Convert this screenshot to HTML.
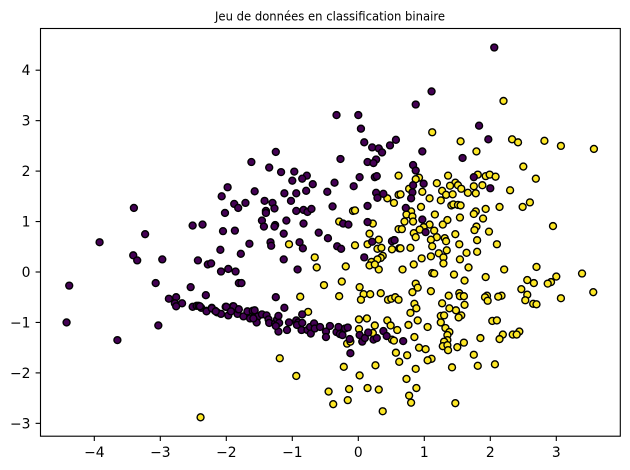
<!DOCTYPE html>
<html>
<head>
<meta charset="utf-8">
<title>Jeu de données en classification binaire</title>
<style>
html,body{margin:0;padding:0;background:#fff;}
#chart{display:block;width:630px;height:470px;font-family:"DejaVu Sans","Liberation Sans",sans-serif;}
</style>
</head>
<body>
<svg id="chart" width="630" height="470" viewBox="0 0 630 470" xmlns="http://www.w3.org/2000/svg">
  <rect x="0" y="0" width="630" height="470" fill="#ffffff"/>
  <text x="330" y="20.5" font-size="12px" text-anchor="middle" fill="#000" textLength="230" lengthAdjust="spacingAndGlyphs">Jeu de données en classification binaire</text>
  <g id="class-0-points"></g>
  <g id="class-1-points"></g>
  <g id="x-axis"></g>
  <g id="y-axis"></g>
  <rect x="40.5" y="28.5" width="579.8" height="407.7" fill="none" stroke="#000" stroke-width="1.11"/>
</svg>
<script>
const xTicks = [-4, -3, -2, -1, 0, 1, 2, 3];
const yTicks = [-3, -2, -1, 0, 1, 2, 3, 4];
const class1Points = [
[0.61,1.91],[0.44,1.46],[0.54,1.37],[0.61,1.53],[-0.08,1.21],[-0.05,1.22],[-0.29,1.00],[0.22,0.96],[0.17,0.76],[-1.05,0.55],
[-0.05,0.53],[0.14,0.55],[0.31,0.64],[0.29,0.46],[0.35,0.48],[0.51,0.45],[0.62,0.47],[0.61,0.85],[-0.66,0.29],[-0.63,0.09],
[-0.19,0.11],[0.37,0.32],[0.34,0.28],[0.29,0.25],[0.20,0.20],[0.17,0.13],[0.31,0.05],[0.25,0.15],[-0.25,-0.19],[-0.52,-0.26],
[0.02,-0.30],[0.08,-0.44],[0.18,-0.44],[0.34,-0.42],[0.04,-0.55],[0.45,-0.55],[0.50,-0.53],[0.56,-0.50],[0.61,-0.55],[-0.29,-0.48],
[-0.88,-0.49],[-0.76,-0.79],[-0.17,-1.42],[-0.12,-1.38],[0.01,-0.94],[0.13,-0.92],[0.01,-1.13],[0.25,-1.06],[0.44,-0.96],[0.49,-1.06],
[0.59,-1.15],[0.51,-1.34],[0.22,-1.21],[0.57,-1.60],[0.62,-1.78],[-1.19,-1.71],[-0.94,-2.06],[-0.22,-1.88],[0.26,-1.85],[0.02,-2.05],
[-0.45,-2.37],[-0.38,-2.62],[-0.14,-2.32],[-0.16,-2.54],[0.14,-2.30],[0.31,-2.33],[0.37,-2.76],[-2.39,-2.88],[2.20,3.39],[1.12,2.77],
[1.55,2.59],[2.33,2.63],[2.42,2.57],[2.82,2.60],[3.07,2.50],[3.57,2.44],[1.79,2.39],[2.50,2.09],[1.36,1.91],[0.92,1.87],
[0.87,1.84],[1.81,1.93],[1.93,1.90],[1.99,1.93],[2.08,1.89],[2.69,1.85],[1.19,1.76],[1.47,1.77],[1.39,1.71],[1.51,1.72],
[1.56,1.65],[1.75,1.70],[1.88,1.72],[1.66,1.57],[1.78,1.56],[1.27,1.61],[1.33,1.53],[1.43,1.54],[0.97,1.59],[0.77,1.65],
[0.64,1.54],[1.08,1.46],[1.25,1.42],[2.30,1.62],[0.95,1.29],[1.41,1.32],[1.44,1.34],[1.51,1.33],[1.55,1.32],[1.93,1.25],
[2.14,1.29],[2.49,1.29],[2.60,1.38],[1.78,1.20],[1.75,1.15],[0.80,1.20],[0.73,1.14],[1.16,1.14],[0.82,1.10],[1.54,1.08],
[1.89,1.06],[1.35,1.03],[0.70,1.00],[0.83,1.00],[1.28,0.94],[1.08,0.94],[0.99,0.89],[1.79,0.90],[1.76,0.83],[0.66,0.85],
[0.93,0.84],[1.15,0.82],[2.95,0.91],[1.98,0.80],[1.47,0.75],[0.84,0.77],[0.87,0.69],[1.19,0.69],[1.31,0.67],[1.10,0.64],
[1.33,0.61],[1.80,0.63],[0.54,0.63],[1.53,0.55],[2.10,0.55],[1.12,0.51],[0.64,0.47],[0.79,0.48],[1.34,0.43],[1.64,0.38],
[1.80,0.40],[1.22,0.37],[1.10,0.31],[0.96,0.27],[1.29,0.29],[1.54,0.25],[1.29,0.17],[0.84,0.15],[0.67,0.05],[1.67,0.09],
[2.21,0.05],[2.70,0.10],[3.39,-0.03],[1.12,-0.02],[1.15,-0.03],[1.45,-0.05],[1.93,-0.10],[1.61,-0.17],[2.56,-0.16],[3.00,-0.09],
[2.92,-0.20],[2.87,-0.23],[2.66,-0.22],[0.87,-0.23],[0.90,-0.31],[2.47,-0.34],[1.10,-0.38],[0.82,-0.40],[3.56,-0.40],[1.37,-0.47],
[1.53,-0.42],[1.54,-0.48],[1.60,-0.48],[1.95,-0.47],[1.92,-0.50],[2.17,-0.47],[2.12,-0.49],[2.56,-0.45],[3.07,-0.52],[2.53,-0.56],
[1.96,-0.57],[2.65,-0.63],[2.70,-0.64],[0.85,-0.63],[1.27,-0.62],[1.61,-0.65],[0.88,-0.72],[1.38,-0.72],[1.48,-0.76],[0.79,-0.81],
[1.25,-0.87],[1.30,-0.86],[1.56,-0.86],[1.52,-0.90],[0.90,-0.96],[2.03,-0.97],[2.10,-0.96],[1.25,-1.00],[0.76,-1.05],[1.05,-1.09],
[1.32,-1.11],[1.38,-1.19],[2.44,-1.18],[2.19,-1.24],[2.34,-1.24],[2.40,-1.24],[2.14,-1.33],[0.85,-1.29],[1.85,-1.31],[1.35,-1.25],
[1.35,-1.35],[1.30,-1.38],[1.60,-1.40],[0.54,-1.36],[1.28,-1.47],[1.35,-1.45],[0.92,-1.50],[1.02,-1.53],[1.50,-1.49],[1.36,-1.55],
[0.74,-1.65],[1.75,-1.64],[1.11,-1.72],[1.05,-1.75],[2.07,-1.83],[1.81,-1.86],[1.42,-1.89],[0.87,-1.92],[0.73,-2.12],[0.88,-2.30],
[0.77,-2.45],[0.80,-2.59],[1.47,-2.60]
];
const class0Points = [
[-1.98,1.68],[-2.07,1.50],[-1.88,1.35],[-1.82,1.27],[-2.02,1.17],[-3.40,1.27],[-2.51,0.92],[-2.36,0.94],[-2.05,0.81],[-1.87,0.82],
[-3.23,0.75],[-3.92,0.59],[-2.09,0.44],[-1.78,0.36],[-3.41,0.33],[-3.35,0.23],[-2.97,0.25],[-2.43,0.23],[-2.28,0.15],[-2.23,0.17],
[-1.97,0.06],[-2.08,0.01],[-1.86,0.01],[-1.81,-0.22],[-3.07,-0.22],[-2.54,-0.30],[-4.38,-0.27],[-2.31,-0.46],[-2.87,-0.53],[-2.76,-0.50],
[-2.78,-0.62],[-2.67,-0.62],[-2.76,-0.68],[-2.51,-0.69],[-2.45,-0.67],[-2.42,-0.67],[-2.38,-0.71],[-2.30,-0.77],[-2.22,-0.71],[-2.17,-0.77],
[-2.14,-0.80],[-2.08,-0.83],[-2.01,-0.69],[-1.90,-0.68],[-1.97,-0.86],[-1.83,-0.83],[-1.82,-0.74],[-4.42,-1.00],[-3.03,-1.06],[-3.65,-1.35],
[-0.33,3.11],[-0.00,3.11],[0.04,2.84],[0.09,2.57],[0.57,2.62],[0.21,2.47],[0.31,2.45],[0.36,2.37],[0.48,2.51],[-1.25,2.38],
[-1.62,2.18],[-0.27,2.24],[0.27,2.23],[0.14,2.18],[0.23,2.16],[-1.35,2.07],[-1.17,1.98],[-0.97,1.99],[-0.78,1.91],[-1.00,1.81],
[-0.85,1.85],[-0.36,1.77],[0.02,1.88],[0.25,1.88],[0.28,1.90],[-0.69,1.74],[-0.07,1.70],[-1.71,1.37],[-1.57,1.60],[-1.12,1.56],
[-0.94,1.56],[-0.79,1.61],[-0.47,1.59],[0.27,1.57],[0.38,1.55],[0.29,1.47],[-1.02,1.41],[-1.42,1.41],[-1.30,1.37],[-1.27,1.26],
[-0.39,1.30],[0.14,1.31],[-1.40,1.21],[-1.40,1.17],[-0.94,1.21],[-0.83,1.23],[-0.77,1.19],[-0.71,1.25],[-1.46,1.02],[-1.09,1.02],
[-1.43,0.90],[-1.26,0.93],[-1.27,0.90],[-0.83,0.96],[-0.23,0.96],[-0.15,0.94],[0.14,0.99],[-1.13,0.76],[-0.60,0.78],[-0.46,0.67],
[-1.65,0.56],[-1.33,0.59],[-1.32,0.52],[-0.89,0.59],[-0.84,0.47],[-0.32,0.51],[-0.26,0.46],[0.21,0.60],[0.51,0.61],[0.55,0.63],
[-1.13,0.25],[-0.92,0.05],[0.09,0.29],[-1.77,-0.22],[-1.25,-0.50],[-1.12,-0.71],[-0.85,-0.84],[-2.40,-0.68],[-2.30,-0.78],[-2.22,-0.72],
[-2.16,-0.78],[-2.00,-0.69],[-1.89,-0.68],[-1.93,-0.78],[-1.81,-0.74],[-1.74,-0.88],[-1.68,-0.78],[-1.60,-0.77],[-1.64,-0.92],[-1.57,-0.76],
[-1.52,-0.88],[-1.54,-1.00],[-1.59,-0.92],[-1.46,-0.84],[-1.39,-0.86],[-1.36,-0.94],[-1.35,-1.01],[-1.26,-1.02],[-1.23,-0.94],[-1.21,-0.87],
[-1.20,-1.01],[-1.21,-1.18],[-1.25,-1.07],[-1.08,-1.15],[-1.05,-1.00],[-0.94,-0.96],[-0.91,-1.00],[-0.93,-1.05],[-0.85,-1.01],[-0.86,-1.15],
[-0.77,-1.15],[-0.73,-1.09],[-0.72,-1.22],[-0.67,-1.02],[-0.66,-1.12],[-0.58,-1.09],[-0.49,-1.18],[-0.49,-1.29],[-0.43,-1.07],[-0.33,-1.19],
[-0.30,-1.09],[-0.28,-1.23],[-0.24,-1.25],[-0.20,-1.12],[-0.16,-1.10],[-0.13,-1.33],[-0.12,-1.61],[0.02,-1.25],[0.06,-1.38],[0.10,-1.31],
[0.15,-1.20],[0.23,-1.34],[0.28,-1.31],[0.38,-1.17],[0.43,-1.27],[2.06,4.45],[1.11,3.58],[0.87,3.32],[1.83,2.90],[1.97,2.63],
[0.97,2.39],[1.58,2.26],[0.83,2.12],[0.87,2.01],[1.75,1.88],[0.83,1.72],[0.99,1.75],[0.82,1.58],[0.80,1.46],[0.72,1.27],
[0.97,1.04],[1.02,0.79],[2.00,1.66],[0.68,-1.37]
];

const SVG_NS = 'http://www.w3.org/2000/svg';
const scaleX = v => 358.3 + 66.0 * v;
const scaleY = v => 272.0 - 50.45 * v;
const fmt = v => String(v).replace('-', '\u2212');

function drawPoints(points, containerId, fill) {
  const g = document.getElementById(containerId);
  points.forEach(p => {
    const c = document.createElementNS(SVG_NS, 'circle');
    
    
    c.setAttribute('cx', scaleX(p[0]));
    c.setAttribute('cy', scaleY(p[1]));
    c.setAttribute('r', 3.47);
    c.setAttribute('fill', fill);
    c.setAttribute('stroke', '#000');
    c.setAttribute('stroke-width', 1.39);
    g.appendChild(c);
  });
}
drawPoints(class1Points, 'class-1-points', '#fde725');
drawPoints(class0Points, 'class-0-points', '#440154');
document.getElementById('chart').insertBefore(document.getElementById('class-1-points'), document.getElementById('class-0-points'));

const xAxis = document.getElementById('x-axis');
xTicks.forEach(t => {
  const x = scaleX(t);
  const line = document.createElementNS(SVG_NS, 'line');
  
  
  line.setAttribute('x1', x);
  line.setAttribute('x2', x);
  line.setAttribute('y1', 436);
  line.setAttribute('y2', 441);
  line.setAttribute('stroke', '#000');
  line.setAttribute('stroke-width', 1.11);
  xAxis.appendChild(line);
  const label = document.createElementNS(SVG_NS, 'text');
  
  
  label.setAttribute('x', x);
  label.setAttribute('y', 457);
  label.setAttribute('font-size', '13.89px');
  label.setAttribute('text-anchor', 'middle');
  label.setAttribute('fill', '#000');
  label.textContent = fmt(t);
  xAxis.appendChild(label);
});

const yAxis = document.getElementById('y-axis');
yTicks.forEach(t => {
  const y = scaleY(t);
  const line = document.createElementNS(SVG_NS, 'line');
  
  
  line.setAttribute('x1', 35.6);
  line.setAttribute('x2', 40.5);
  line.setAttribute('y1', y);
  line.setAttribute('y2', y);
  line.setAttribute('stroke', '#000');
  line.setAttribute('stroke-width', 1.11);
  yAxis.appendChild(line);
  const label = document.createElementNS(SVG_NS, 'text');
  
  
  label.setAttribute('x', 30.5);
  label.setAttribute('y', y + 5);
  label.setAttribute('font-size', '13.89px');
  label.setAttribute('text-anchor', 'end');
  label.setAttribute('fill', '#000');
  label.textContent = fmt(t);
  yAxis.appendChild(label);
});
</script>
</body>
</html>
